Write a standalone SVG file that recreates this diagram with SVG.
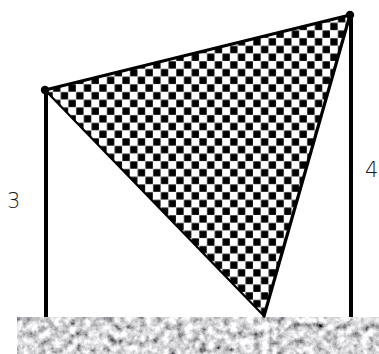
<svg xmlns="http://www.w3.org/2000/svg" width="379" height="354" viewBox="0 0 379 354">
  <defs>
    <pattern id="checker" patternUnits="userSpaceOnUse" x="99" y="99.5" width="15.4" height="15.4">
      <rect width="15.4" height="15.4" fill="#ffffff"/>
      <rect x="0.3" y="0.3" width="7.3" height="7.3" fill="#000"/>
      <rect x="8" y="8" width="7.3" height="7.3" fill="#000"/>
    </pattern>
    <filter id="granite" x="0" y="0" width="100%" height="100%">
      <feTurbulence type="fractalNoise" baseFrequency="0.13" numOctaves="4" seed="11" result="n"/>
      <feColorMatrix in="n" type="matrix" values="0.95 0.95 0.95 0 -0.75  0.95 0.95 0.95 0 -0.75  0.95 0.95 0.95 0 -0.73  0 0 0 0 1" result="g"/>
      <feComposite in="g" in2="SourceGraphic" operator="in"/>
    </filter>
    <style>
      .pole { stroke: #000; stroke-width: 4; fill: none; }
      .edge { stroke: #000; fill: none; stroke-linecap: round; }
      .lbl { font-family: "DejaVu Sans", "Liberation Sans", sans-serif; font-weight: 300; font-size: 21px; fill: #1a1a1a; }
      .dot { fill: #000; }
    </style>
  </defs>

  <g id="ground">
    <rect x="17" y="317" width="362" height="37" fill="#a8a8a8"/>
    <rect x="17" y="317" width="362" height="37" fill="#888" filter="url(#granite)"/>
  </g>

  <g id="triangle">
    <polygon points="45,90 350,15 264,316" fill="url(#checker)"/>
  </g>

  <g id="connectors">
    <line class="pole" x1="46" y1="90" x2="46" y2="317"/>
    <line class="pole" x1="351" y1="15" x2="351" y2="317"/>
    <line class="edge" x1="45" y1="90" x2="350" y2="15" stroke-width="3.2"/>
    <line class="edge" x1="350" y1="15" x2="264" y2="316" stroke-width="3.2"/>
    <line class="edge" x1="45" y1="90" x2="264" y2="316" stroke-width="2.2"/>
  </g>

  <g id="pointA"><circle class="dot" cx="45" cy="90" r="4.2"/></g>
  <g id="pointB"><circle class="dot" cx="350" cy="15" r="4.2"/></g>

  <g id="label3"><text class="lbl" x="7" y="208">3</text></g>
  <g id="label4"><text class="lbl" x="365" y="177">4</text></g>
</svg>
